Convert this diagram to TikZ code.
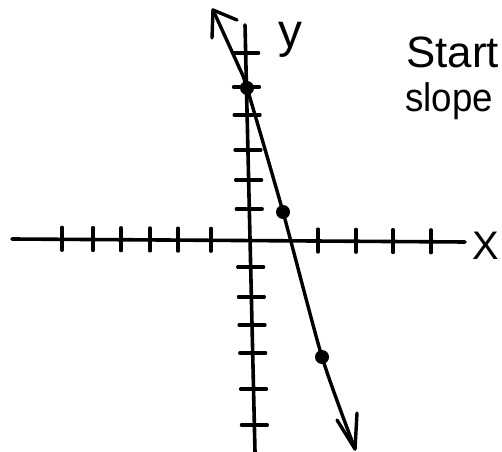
\documentclass[tikz,border=0pt]{standalone}
\usepackage{fontspec}
\setmainfont{Liberation Sans}
\begin{document}
\begin{tikzpicture}[x=1bp,y=-1bp, line cap=round, line join=round,
  axisline/.style={draw=black, line width=3.6bp},
  tickmark/.style={draw=black, line width=3.2bp},
  graphline/.style={draw=black, line width=3.4bp},
  ptdot/.style={circle, fill=black, inner sep=0pt, minimum size=14bp},
  lbl/.style={font=\fontsize{40}{46}\selectfont, inner sep=0pt}]
\useasboundingbox (0,0) rectangle (502,452);
\fill[white] (0,0) rectangle (502,452);

% axes
\coordinate (xl) at (12,239);
\coordinate (xr) at (465,242);
\coordinate (yt) at (245,25);
\coordinate (yb) at (255,452);
\draw[axisline] (xl) -- (xr);
\draw[axisline] (yt) -- (yb);

% x ticks
\foreach \tx in {62,93,121,150,178,211,318,356,393,431}{
  \pgfmathsetmacro{\ty}{239+3*(\tx-12)/453}
  \draw[tickmark] (\tx,\ty-12) -- (\tx,\ty+11);
}
% y ticks
\foreach \ty in {53,87,115,150,180,209,267,297,325,353,389,425}{
  \pgfmathsetmacro{\tx}{245+10*(\ty-25)/427}
  \draw[tickmark] (\tx-13,\ty) -- (\tx+13,\ty);
}

% graph line
\coordinate (tipT) at (213,10);
\coordinate (p1) at (238,65);
\coordinate (A) at (247,88);
\coordinate (B) at (283,212);
\coordinate (C) at (322,357);
\coordinate (tipB) at (355,449);
\draw[graphline] plot[smooth, tension=0.4] coordinates {(tipT) (p1) (A) (B) (C) (tipB)};
% arrow barbs
\coordinate (bT1) at (212,38);
\coordinate (bT2) at (237,20);
\draw[graphline] (bT1) -- (tipT) -- (bT2);
\coordinate (bB1) at (337,420);
\coordinate (bB2) at (357,413);
\draw[graphline] (bB1) -- (tipB) -- (bB2);

% points
\node[ptdot] (dA) at (A) {};
\node[ptdot] (dB) at (B) {};
\node[ptdot] (dC) at (C) {};

% labels
\node[lbl, font=\fontsize{48}{52}\selectfont] (ylab) at (290,40) {y};
\node[lbl] (xlab) at (486,246) {X};
\node[lbl, font=\fontsize{44}{50}\selectfont, anchor=base west] (t1) at (406,68) {Start};
\node[lbl, anchor=base west, xscale=0.92] (t2) at (405,112) {slope};
\end{tikzpicture}
\end{document}
